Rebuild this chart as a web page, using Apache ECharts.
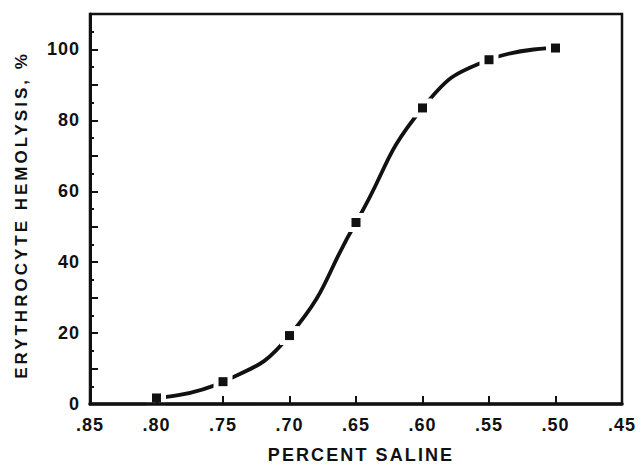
<!DOCTYPE html>
<html>
<head>
<meta charset="utf-8">
<script src="https://cdn.jsdelivr.net/npm/echarts@6/dist/echarts.min.js"></script>
<style>
  html, body { margin: 0; padding: 0; background: #fff; }
  #chart { width: 643px; height: 465px; }
</style>
</head>
<body>
<div id="chart"></div>
<script>
// Saline concentration (percent) and the matching hemolysis level (%)
const saline = [0.80, 0.75, 0.70, 0.65, 0.60, 0.55, 0.50];
const hemolysis = [1.7, 6.3, 19.3, 51.2, 83.5, 97.1, 100.4];

const xTicks = [0.85, 0.80, 0.75, 0.70, 0.65, 0.60, 0.55, 0.50, 0.45];
const yLabelled = [0, 20, 40, 60, 80, 100];

const X_TITLE = 'PERCENT SALINE';
const Y_TITLE = 'ERYTHROCYTE HEMOLYSIS, %';

// Plotter-style lettering is widely tracked.
const tracking = { [X_TITLE]: 2.1, [Y_TITLE]: 3 };
const TICK_TRACKING = 1;

const INK = '#111';
const FONT = 'Liberation Sans, Arial, Helvetica, sans-serif';

const points = saline.map((s, i) => [s, hemolysis[i]]);

const chart = echarts.init(document.getElementById('chart'), null, { renderer: 'svg' });
chart.setOption({
  animation: false,
  backgroundColor: '#fff',
  grid: {
    left: 90, right: 21, top: 14, bottom: 61,
    containLabel: false,
    outerBoundsMode: 'none',
    show: true, borderColor: INK, borderWidth: 2.5, backgroundColor: 'transparent'
  },
  xAxis: {
    type: 'value',
    inverse: true,
    min: 0.45, max: 0.85, interval: 0.05,
    z: 10,
    name: X_TITLE,
    nameLocation: 'middle',
    nameGap: 42,
    nameTextStyle: { color: INK, fontFamily: FONT, fontWeight: 'bold', fontSize: 18, padding: [0, 0, 0, 10] },
    axisLine: { show: true, lineStyle: { color: INK, width: 3.5 } },
    axisTick: { show: true, inside: true, length: 8, lineStyle: { color: INK, width: 2 } },
    axisLabel: {
      color: INK, fontFamily: FONT, fontWeight: 'bold', fontSize: 18, margin: 12,
      showMinLabel: true, showMaxLabel: true,
      formatter: v => {
        const hit = xTicks.find(t => Math.abs(t - v) < 1e-6);
        return hit === undefined ? '' : hit.toFixed(2).replace(/^0/, '');
      }
    },
    splitLine: { show: false }
  },
  yAxis: {
    type: 'value',
    min: 0, max: 110, interval: 10,
    name: Y_TITLE,
    nameLocation: 'middle',
    nameGap: 60,
    nameRotate: 90,
    nameTextStyle: { color: INK, fontFamily: FONT, fontWeight: 'bold', fontSize: 17, padding: [0, 12, 0, 0] },
    axisLine: { show: true, lineStyle: { color: INK, width: 3 } },
    axisTick: { show: true, inside: true, length: 8, lineStyle: { color: INK, width: 2 } },
    minorTick: { show: true, splitNumber: 2, length: 4, lineStyle: { color: INK, width: 2 } },
    axisLabel: {
      color: INK, fontFamily: FONT, fontWeight: 'bold', fontSize: 18, margin: 10,
      formatter: v => (yLabelled.includes(v) ? String(v) : '')
    },
    splitLine: { show: false },
    minorSplitLine: { show: false }
  },
  series: [
    {
      // fitted curve through the measurements
      type: 'line',
      data: points,
      smooth: 0.5,
      showSymbol: false,
      lineStyle: { color: INK, width: 3.8 },
      z: 1
    },
    {
      // white clearance that breaks the curve around each marker
      type: 'scatter',
      data: points,
      symbol: 'rect',
      symbolSize: 19,
      itemStyle: { color: '#ffffff', opacity: 1 },
      silent: true,
      z: 5
    },
    {
      type: 'scatter',
      data: points,
      symbol: 'rect',
      symbolSize: 9,
      itemStyle: { color: INK, opacity: 1 },
      z: 6
    }
  ]
});

function applyTracking() {
  chart.getDom().querySelectorAll('text').forEach(node => {
    const px = tracking[node.textContent];
    node.setAttribute('letter-spacing', (px === undefined ? TICK_TRACKING : px) + 'px');
  });
}
applyTracking();
chart.on('finished', applyTracking);
</script>
</body>
</html>
